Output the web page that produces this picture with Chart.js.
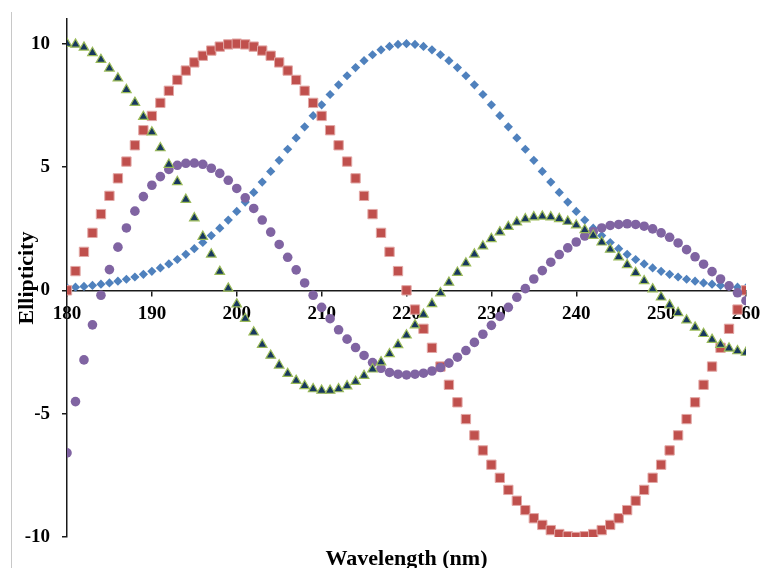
<!DOCTYPE html>
<html>
<head>
<meta charset="utf-8">
<script src="https://cdn.jsdelivr.net/npm/chart.js@4.4.1/dist/chart.umd.min.js"></script>
<style>
  html, body { margin: 0; padding: 0; background: #fff; }
  #wrap { position: relative; width: 762px; height: 568px; overflow: hidden; }
  #frame { position: absolute; left: 11px; top: 12px; width: 1px; height: 556px; background: #c8c8c8; }
  #wrap canvas { position: absolute; left: 0; top: 0; }
</style>
</head>
<body>
<div id="wrap">
  <div id="frame"></div>
  <canvas id="cdChart" width="762" height="568"></canvas>
</div>
<script>
// wavelength (nm), one point per nm
const wavelengths = [180,181,182,183,184,185,186,187,188,189,190,191,192,193,194,195,196,197,198,199,
  200,201,202,203,204,205,206,207,208,209,210,211,212,213,214,215,216,217,218,219,
  220,221,222,223,224,225,226,227,228,229,230,231,232,233,234,235,236,237,238,239,
  240,241,242,243,244,245,246,247,248,249,250,251,252,253,254,255,256,257,258,259,260];

// blue diamonds
const seriesBlue = [0.10,0.13,0.16,0.20,0.25,0.30,0.37,0.45,0.54,0.65,0.77,0.91,1.07,1.25,1.46,1.69,1.94,2.22,2.52,2.85,
  3.20,3.58,3.97,4.39,4.82,5.27,5.72,6.18,6.63,7.08,7.52,7.94,8.33,8.70,9.03,9.31,9.55,9.75,9.89,9.97,
  10,9.97,9.89,9.75,9.55,9.31,9.03,8.70,8.33,7.94,7.52,7.08,6.63,6.18,5.72,5.27,4.82,4.39,3.97,3.58,
  3.20,2.85,2.52,2.22,1.94,1.69,1.46,1.25,1.07,0.91,0.77,0.65,0.54,0.45,0.37,0.30,0.25,0.20,0.16,0.13,0.10];

// red squares
const seriesRed = [0,0.78,1.56,2.33,3.09,3.83,4.54,5.22,5.88,6.49,7.07,7.60,8.09,8.53,8.91,9.24,9.51,9.72,9.88,9.97,
  10,9.97,9.88,9.72,9.51,9.24,8.91,8.53,8.09,7.60,7.07,6.49,5.88,5.22,4.54,3.83,3.09,2.33,1.56,0.78,
  0,-0.78,-1.56,-2.33,-3.09,-3.83,-4.54,-5.22,-5.88,-6.49,-7.07,-7.60,-8.09,-8.53,-8.91,-9.24,-9.51,-9.72,-9.88,-9.97,
  -10,-9.97,-9.88,-9.72,-9.51,-9.24,-8.91,-8.53,-8.09,-7.60,-7.07,-6.49,-5.88,-5.22,-4.54,-3.83,-3.09,-2.33,-1.56,-0.78,0];

// purple circles
const seriesPurple = [-6.59,-4.51,-2.82,-1.40,-0.20,0.84,1.75,2.53,3.21,3.80,4.26,4.61,4.90,5.07,5.15,5.16,5.11,4.95,4.74,4.46,
  4.13,3.75,3.32,2.85,2.36,1.86,1.34,0.83,0.30,-0.20,-0.69,-1.15,-1.60,-1.98,-2.32,-2.64,-2.93,-3.16,-3.33,-3.40,
  -3.43,-3.40,-3.36,-3.27,-3.13,-2.95,-2.71,-2.44,-2.11,-1.78,-1.42,-1.06,-0.69,-0.28,0.07,0.46,0.80,1.14,1.45,1.72,
  1.96,2.20,2.37,2.53,2.63,2.67,2.70,2.67,2.60,2.49,2.33,2.15,1.92,1.65,1.36,1.06,0.76,0.46,0.18,-0.10,-0.42];

// navy triangles
const seriesNavy = [10.0,9.97,9.85,9.63,9.35,9.00,8.60,8.13,7.61,7.04,6.41,5.77,5.10,4.40,3.68,2.93,2.18,1.46,0.76,0.08,
  -0.56,-1.15,-1.70,-2.20,-2.64,-3.04,-3.38,-3.66,-3.87,-4.00,-4.06,-4.06,-4.00,-3.88,-3.70,-3.46,-3.20,-2.91,-2.58,-2.21,
  -1.82,-1.41,-0.98,-0.55,-0.11,0.32,0.72,1.10,1.46,1.79,2.09,2.36,2.58,2.76,2.89,2.97,3.00,2.97,2.90,2.79,
  2.64,2.45,2.22,1.95,1.66,1.35,1.03,0.71,0.38,0.05,-0.28,-0.60,-0.91,-1.21,-1.50,-1.76,-2.00,-2.20,-2.35,-2.46,-2.52];

const yTickValues = [-10, -5, 0, 5, 10];

function toPoints(values) {
  return wavelengths.map((w, i) => ({ x: w, y: values[i] }));
}

// drop the label overhang padding so the plot area sits where the layout padding says
function noOverhang(scale) {
  scale.paddingLeft = 0;
  scale.paddingRight = 0;
  scale.paddingTop = 0;
  scale.paddingBottom = 0;
}

const axisColor = '#1a1a1a';
const tickFont = { family: 'Liberation Serif', size: 19, weight: 'bold' };
const titleFont = { family: 'Liberation Serif', size: 22, weight: 'bold' };

new Chart('cdChart', {
  type: 'scatter',
  data: {
    datasets: [
      {
        label: 'navy', data: toPoints(seriesNavy), order: 0,
        pointStyle: 'triangle', pointRadius: 5.5,
        backgroundColor: '#17375E', borderColor: '#9BBB59', borderWidth: 1.2
      },
      {
        label: 'purple', data: toPoints(seriesPurple), order: 1,
        pointStyle: 'circle', pointRadius: 4.8,
        backgroundColor: '#8064A2', borderColor: '#8064A2', borderWidth: 0
      },
      {
        label: 'red', data: toPoints(seriesRed), order: 2,
        pointStyle: 'rect', pointRadius: 6.6,
        backgroundColor: '#C0504D', borderColor: '#E2A8A6', borderWidth: 1
      },
      {
        label: 'blue', data: toPoints(seriesBlue), order: 3,
        pointStyle: 'rectRot', pointRadius: 4.6,
        backgroundColor: '#4F81BD', borderColor: '#4F81BD', borderWidth: 0
      }
    ]
  },
  options: {
    responsive: false,
    animation: false,
    layout: { padding: { top: 19, right: 16, left: 0, bottom: 0 } },
    plugins: {
      legend: { display: false },
      tooltip: { enabled: false }
    },
    scales: {
      x: {
        type: 'linear',
        position: { y: 0 },
        min: 180,
        max: 260,
        afterFit: noOverhang,
        ticks: { stepSize: 10, color: '#000', font: tickFont, padding: 7, maxRotation: 0 },
        grid: { display: true, drawOnChartArea: false, drawTicks: true, tickLength: 5, color: axisColor, lineWidth: 1.5 },
        border: { display: true, color: axisColor, width: 1.5 }
      },
      xTitle: {
        type: 'linear',
        axis: 'x',
        position: 'bottom',
        min: 180,
        max: 260,
        ticks: { display: false },
        grid: { display: false, drawTicks: false },
        border: { display: false },
        title: { display: true, text: 'Wavelength (nm)', color: '#000', font: titleFont, padding: { top: 0, bottom: -5 } },
        afterFit: (scale) => { noOverhang(scale); scale.height = 31; }
      },
      y: {
        type: 'linear',
        position: 'left',
        min: -10,
        max: 11,
        afterBuildTicks: (scale) => { scale.ticks = yTickValues.map(v => ({ value: v })); },
        afterFit: (scale) => { noOverhang(scale); scale.width = 67; },
        ticks: { color: '#000', font: tickFont, padding: 12 },
        grid: { display: true, drawOnChartArea: false, drawTicks: true, tickLength: 5, color: axisColor, lineWidth: 1.5 },
        border: { display: true, color: axisColor, width: 1.5 },
        title: { display: true, text: 'Ellipticity', color: '#000', font: titleFont, padding: { top: 14, bottom: 0 } }
      }
    }
  }
});
</script>
</body>
</html>
